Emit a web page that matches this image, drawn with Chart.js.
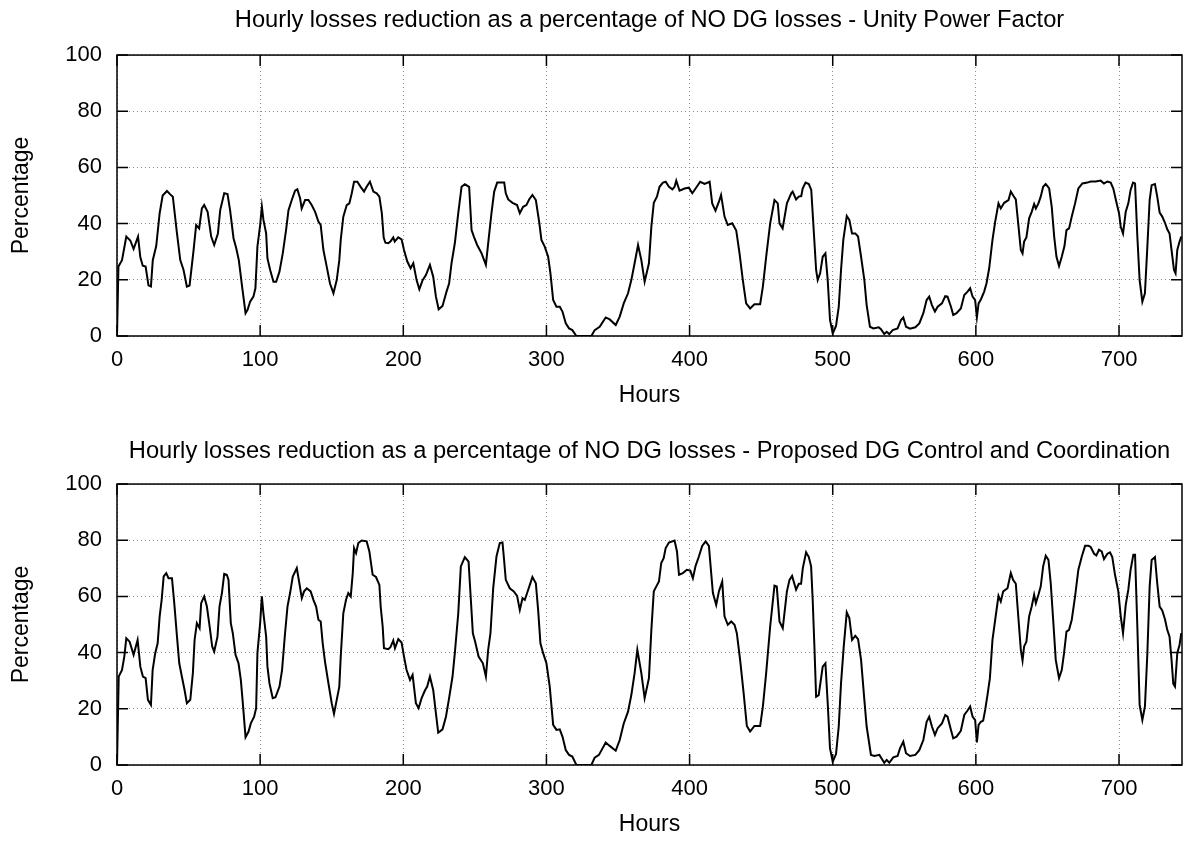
<!DOCTYPE html>
<html>
<head>
<meta charset="utf-8">
<title>Hourly losses reduction</title>
<script src="https://cdn.jsdelivr.net/npm/chart.js@4.4.1/dist/chart.umd.min.js"></script>
<style>
  body { margin: 0; background: #fff; }
  canvas { display: block; }
</style>
</head>
<body>
<canvas id="upfChart" width="1187" height="421"></canvas>
<canvas id="dgChart" width="1187" height="421"></canvas>
<script>
// Unity power factor case
const topHours = [0, 1, 3.5, 6.5, 9.3, 11.6, 14.7, 16.3, 18, 20, 22, 23.7, 25, 27.4, 29.8, 31.9, 34.9, 37.2, 39, 41.9,
  44.2, 46.5, 48.8, 50.7, 53.5, 55.3, 57.4, 59.3, 60.9, 63.3, 65.8, 67.9, 70.5, 72.1, 74.9, 77.2, 79, 81.4, 83.3, 85.1,
  87.4, 89.8, 91.2, 93, 95.3, 96.7, 98.1, 100, 101.2, 102.3, 104.2, 105.1, 107, 109.3, 111.2, 113.5, 115.8, 118.1, 119.8, 122.1,
  124.4, 126, 127.9, 129, 131.4, 133.7, 136, 138.4, 140.7, 142.3, 144.2, 146.5, 148.8, 151.2, 153.5, 155.3, 156.3, 158.1, 160.5, 162.3,
  164, 165.6, 167.9, 170.2, 172.6, 174.4, 176.7, 179.1, 181.4, 183.3, 185, 186.3, 187.5, 189.5, 191, 193, 194, 196.5, 198.8, 200.5,
  202.8, 205.1, 207, 209.3, 211.2, 213.5, 215.8, 218.6, 220.9, 222.8, 224.7, 227.4, 230.2, 232, 233.7, 236, 238.4, 240.7, 243, 246,
  247.7, 249.3, 251.6, 254.7, 257.7, 259.3, 261.6, 263.5, 265.6, 268.6, 270.5, 271.6, 273.3, 276.3, 279.5, 281.4, 283.7, 286, 287.9, 290.2,
  292.6, 294.9, 296.5, 298.8, 301.2, 302.8, 304.7, 307, 309.3, 311.2, 313.5, 315.8, 318.1, 320.9, 331.4, 333.7, 337.2, 341.4, 344.2, 348.4,
  351.2, 354, 357, 359.3, 361.6, 364, 366.3, 368.6, 371.6, 373.3, 375, 377.2, 379, 381.4, 383.3, 385.6, 388, 389.5, 390.7, 393,
  396.5, 399.5, 401.9, 404.2, 407.4, 410.5, 414, 415.8, 418.1, 420.5, 422, 424.4, 426.7, 429.8, 432.6, 434.9, 437.2, 439.5, 442.3, 445.3,
  449.3, 451.2, 453.5, 456.3, 459.3, 461.6, 462.8, 465, 468, 471, 472, 474.4, 476.3, 478, 479, 481, 483.3, 485, 486, 488.4,
  489.5, 491.2, 493, 494.9, 496.5, 498.1, 500, 502.3, 504.2, 505.8, 507.4, 509.8, 511.6, 513.5, 515.8, 517.7, 519.8, 522.1, 523.7, 526,
  528.4, 532.1, 533.7, 536, 537.7, 539.5, 541.9, 545.3, 547.7, 549.3, 551.2, 554, 557.7, 560.5, 563.3, 565.6, 567.4, 569.3, 571.4, 573.3,
  576.3, 578.6, 580.2, 582.6, 584.2, 586.5, 589.5, 591.9, 594.2, 596, 597.7, 599.5, 600.7, 601.9, 603.5, 605.8, 607.4, 609.3, 611.6, 613.5,
  615.8, 617.4, 619.8, 622.8, 624.4, 626.3, 627.9, 629.8, 631.4, 632.6, 633.7, 635.3, 637.2, 639, 640.7, 641.9, 643.7, 645.3, 647, 648.8,
  651.2, 653, 654.7, 656.3, 658.1, 660, 661.9, 663.3, 665.1, 667, 669.3, 671.6, 674.4, 677.9, 680.2, 683.7, 687.2, 689.5, 691.9, 694.2,
  696, 698.1, 700, 701.2, 702.8, 704.7, 706.5, 708.1, 709.8, 711.2, 712.8, 714.4, 716.3, 718.1, 719.8, 721.4, 722.8, 725.1, 726.7, 728.4,
  730.2, 732.1, 733.7, 735.3, 736.7, 738.4, 739.5, 740.7, 742.3, 743.5];
const topValues = [0, 24.7, 27, 35.4, 34, 31, 35.4, 28, 25, 24.7, 18, 17.6, 27, 32, 43.7, 50, 51.6, 50.4, 49.6, 36.5,
  27, 23.5, 17.6, 18, 30.6, 39.5, 38.3, 45.4, 46.6, 44.2, 35.4, 32.4, 36.5, 44.8, 50.8, 50.5, 44.8, 34.8, 31.2, 27,
  17.6, 8.1, 9.3, 12.2, 14, 17, 31.8, 39.5, 46, 41.3, 36.5, 27.6, 23.5, 19.3, 19.3, 22.9, 29.4, 37.7, 44.8, 48.4,
  51.7, 52.2, 49, 45.4, 48.4, 48.4, 46.6, 44.2, 40.7, 39.5, 30.6, 24.7, 18.7, 15.2, 19.9, 27, 34.2, 42.5, 46.6, 47.2,
  50.8, 54.9, 54.9, 53.1, 51.4, 53.1, 54.9, 51.4, 50.8, 49.6, 43.7, 35, 33.2, 33, 33.6, 35.1, 33.6, 35.1, 34.4, 30.6,
  26.5, 24.1, 25.9, 19.9, 16.6, 19.9, 21.7, 25.3, 21.1, 14, 9.5, 10.7, 15.8, 18.7, 25.9, 33, 43.7, 53.1, 54, 53.1,
  37.7, 35.4, 32.4, 29.4, 25.3, 33, 43.7, 51.4, 54.6, 54.6, 54.6, 50.8, 48.6, 47.4, 46.6, 43.7, 46, 46.6, 48.6, 50.2,
  48.4, 40.7, 34.2, 31.8, 28.2, 22.3, 12.8, 10.4, 10.4, 8.7, 4.5, 2.7, 2.1, 0, 0, 2.1, 3.3, 6.6, 5.9, 3.9,
  6.9, 11.6, 15.2, 19.9, 25.9, 32.4, 27, 19.3, 25.9, 38.9, 47.4, 49.6, 53.1, 54.6, 54.9, 53.1, 52.2, 53.1, 55.3, 51.7,
  52.5, 52.8, 50.8, 52.5, 54.9, 54.1, 54.9, 47.2, 44.6, 47.8, 50.2, 42.5, 39.5, 40.1, 37.5, 29.4, 19.9, 11.6, 9.8, 11.3,
  11.3, 17.6, 28.2, 40.1, 48.4, 47.2, 40.1, 38.3, 47.2, 50.8, 51.4, 48.6, 49.6, 49.8, 52.5, 54.6, 54.1, 52, 43.7, 23.5,
  19.9, 22.3, 28.2, 29.4, 19.9, 5.7, 0.9, 3.6, 10.4, 23.5, 34.2, 42.7, 41.3, 36.5, 36.5, 35.4, 28.2, 19.9, 11, 3.3,
  2.7, 3.1, 2.4, 0.7, 1.5, 0.7, 2.1, 2.7, 5.7, 6.6, 3.3, 2.6, 3.1, 4.5, 8.1, 12.8, 14, 11, 8.7, 10.4,
  11.6, 14.2, 14, 10.4, 7.5, 8.1, 9.8, 14.6, 15.8, 17, 14, 12.8, 6.6, 11.6, 13, 15.8, 18.7, 24.1, 34.2, 40.7,
  47.2, 45.4, 47.4, 48.4, 51.4, 49.8, 48.6, 38.9, 30.6, 29.4, 33.6, 35.1, 41.9, 44.2, 47, 45.4, 47.2, 49.6, 53.1, 54.1,
  52.5, 46, 35.4, 28.2, 24.9, 28.2, 32, 37.7, 38.3, 42.5, 47.2, 52.5, 54.3, 54.6, 55, 55, 55.3, 54.3, 55, 54.6,
  52.5, 47.8, 43.7, 38.9, 36.5, 44.2, 47.2, 52, 54.6, 54.3, 35.4, 19.9, 12.2, 15.2, 31.8, 48.4, 53.7, 54.1, 49.6, 43.9,
  42.5, 40.3, 38, 36.5, 30.6, 23.5, 22.3, 30.6, 33.6, 35.4];

// Proposed DG control and coordination case
const bottomHours = [0, 1.2, 3.5, 5.1, 6.5, 8.8, 11.6, 14.4, 16.3, 18.1, 20, 21.6, 23.7, 24.9, 26.7, 28.4, 29.8, 31.2, 32.6, 34.4,
  36, 38.4, 40, 41.9, 43.5, 45.3, 47.2, 48.8, 51.2, 53, 54.2, 55.8, 57.7, 58.8, 60.9, 62.8, 64.7, 66.5, 67.9, 70.2,
  71.6, 73.3, 74.9, 76.7, 77.9, 79.5, 80.9, 82.8, 84.9, 86.5, 87.9, 89.8, 91.9, 93.5, 95.8, 97.2, 98.1, 100, 101.2, 102.3,
  104.2, 105.1, 106.5, 108.8, 110.7, 113.5, 115.3, 117.4, 119.1, 120.9, 122.8, 125.6, 127.4, 129.1, 130.7, 132.6, 135.3, 137.2, 139.1, 140.7,
  142.3, 143.7, 145.3, 147.7, 150, 151.6, 153.5, 155.3, 156.3, 158.1, 160, 161.6, 163.3, 164.7, 165.6, 167, 168.6, 170.9, 174.4, 176.3,
  178.6, 180.9, 183.3, 184.2, 185.6, 186.5, 189.5, 191, 193, 194.2, 196.5, 198.8, 200.5, 202.3, 204.7, 206.5, 208.8, 210.7, 212.8, 215.1,
  216.7, 218.6, 220.9, 222.8, 224.4, 227.4, 229.8, 232, 234.4, 236, 238.4, 240.2, 243, 245.6, 247.2, 248.6, 250.2, 252.6, 255.6, 257.7,
  259.3, 260.9, 262.8, 265.1, 267.4, 269.3, 270.2, 271.6, 274.4, 277.2, 279.5, 281.4, 283.3, 284.9, 286.5, 288.4, 290.2, 292.6, 294.2, 295.8,
  297.7, 300, 302.3, 304.7, 307, 309.3, 311.2, 313.5, 315.8, 318.1, 320.9, 331.4, 333.7, 336.7, 341.4, 344.2, 348.4, 351.2, 354, 357,
  359.3, 361.6, 363.5, 366.3, 368.6, 371.6, 373.3, 375, 376.7, 378.6, 380.2, 381.9, 383.3, 385.6, 389.5, 391.2, 392.6, 395.3, 398.1, 400.5,
  402.3, 404.2, 406.5, 408.8, 411.2, 413.5, 415.1, 416.3, 418.6, 420.5, 422.8, 424.4, 426.7, 429.1, 431.4, 433, 435.3, 437.7, 440, 442.3,
  445.3, 449.3, 451.2, 453.5, 456.3, 459.3, 460.9, 462.8, 465.1, 468, 469.8, 471.6, 474.4, 476.3, 477.9, 479.1, 481.4, 483.3, 484.9, 486,
  487.2, 488.4, 490.2, 493, 494.9, 496.5, 498.1, 500, 502.3, 504.2, 505.8, 507.7, 509.8, 511.6, 513.5, 515.8, 517.7, 519.8, 522.1, 523.7,
  526.7, 529.1, 532.6, 533.7, 536, 537.7, 539.5, 542.3, 545.3, 547, 549.3, 551.2, 554, 557.7, 560.5, 563.3, 565.6, 567.4, 569.3, 571.4,
  573.3, 576.3, 578.6, 580.2, 582.6, 584.2, 586.5, 589.5, 591.9, 594.2, 596, 597.7, 599.5, 600.7, 601.9, 603.5, 605.1, 606.5, 608.1, 609.8,
  611.6, 613.5, 615.8, 617.4, 619.1, 622.1, 624.4, 626, 627.9, 629.8, 631.4, 632.6, 633.7, 635.3, 637.2, 639, 640.7, 641.9, 643.7, 645.3,
  647, 648.8, 650.7, 652.3, 654, 655.8, 658.1, 660, 661.6, 663.3, 665.1, 667, 669.3, 671.6, 674, 676.3, 678.6, 680.2, 682.6, 684.2,
  686, 687.9, 689.5, 691.9, 693.7, 695.3, 697.2, 699.5, 701.2, 702.8, 704.7, 706.5, 708.1, 710, 711.2, 712.8, 714.4, 716.3, 718.1, 719.8,
  721.4, 722.8, 725.1, 726.7, 728.4, 730.2, 732.1, 733.7, 735.3, 736.7, 737.9, 739.1, 740.7, 742.3, 743.5];
const bottomValues = [0, 31.5, 33.8, 38.6, 45.1, 43.9, 39.2, 44.5, 35, 31.5, 30.9, 23.2, 21.4, 33.8, 39.8, 43.3, 52.9, 58.8, 67.1, 68.3,
  66.5, 66.5, 57.6, 45.7, 36.2, 31.5, 26.7, 22, 23.2, 32.7, 44.5, 50.5, 48.7, 57.6, 60, 56.4, 49.3, 42.2, 40.4, 45.7,
  56.4, 61.2, 68, 67.7, 65.9, 50.5, 46.9, 39.2, 36.2, 30.3, 22, 9.9, 11.9, 14.8, 17.2, 20.2, 39.8, 50.5, 60, 54,
  45.7, 35, 29.1, 23.8, 24.1, 27.9, 33.8, 46.9, 56.4, 61.2, 67.1, 70.1, 64.7, 59.4, 61.8, 62.9, 61.8, 58.8, 56.4, 51.7,
  51.1, 43.3, 36.8, 29.1, 22, 18.2, 23.2, 27.9, 38.6, 54, 58.8, 61.2, 60, 68.3, 77.2, 75.4, 79, 79.9, 79.6, 76,
  67.7, 66.9, 64.1, 56.4, 49.3, 41.6, 41.2, 41.9, 44.3, 41.6, 44.8, 43.6, 38.6, 33.8, 30.3, 32.1, 22, 20.2, 23.8, 26.5,
  27.9, 31.5, 26.7, 18.4, 11.5, 12.7, 17.2, 23.8, 31.5, 39.8, 54, 70.7, 74, 72.4, 58.8, 46.9, 43.9, 38.6, 36.2, 31.5,
  41, 46.9, 62.9, 74.2, 79, 79.2, 74.2, 65.9, 62.9, 61.8, 60.2, 55.2, 59.4, 58.8, 61.2, 64.1, 66.9, 64.7, 55.2, 43.3,
  39.8, 36.2, 27.9, 14.3, 12.5, 12.7, 10.1, 5.3, 3.6, 3, 0, 0, 2.6, 3.6, 8, 6.8, 5.1, 8.9, 14.8, 19,
  24.9, 32.7, 41, 32.7, 23.8, 30.9, 48.1, 61.8, 63.5, 65.3, 71.9, 73.6, 77.2, 79.2, 79.9, 76, 67.7, 68.3, 69.5, 69.2,
  66.5, 70.9, 74.2, 78, 79.6, 78, 68.3, 61.2, 57, 61.8, 65.3, 52.9, 49.9, 51.1, 49.9, 46.9, 37.4, 25.9, 13.9, 11.9,
  13.9, 13.9, 20.8, 32.7, 49.3, 63.8, 63.5, 51.1, 48.7, 61.8, 65.9, 67.3, 62.4, 64.5, 64.5, 70.1, 75.7, 74, 70.7, 58.8,
  42.2, 24.3, 24.9, 35, 36.2, 22, 5.9, 1.2, 3.9, 13.7, 29.1, 42.2, 54.3, 52.3, 44.5, 46, 44.8, 37.4, 23.2, 13.7,
  3.6, 3.2, 3.6, 2.7, 0.8, 1.8, 0.8, 2.7, 3.2, 5.9, 8.3, 4.2, 3.2, 3.6, 5.3, 8.9, 15.4, 17.2, 13.7, 10.7,
  13.1, 14.8, 17.8, 17.2, 12.5, 9.5, 10.1, 12.2, 17.8, 19.4, 20.8, 17.2, 16, 8, 14.3, 15.4, 15.8, 19.6, 24.9, 30.9,
  44.5, 51.7, 60.2, 58.2, 61.8, 62.9, 68.3, 65.9, 64.5, 51.7, 41, 37.2, 42.2, 43.9, 52.9, 56.4, 60.6, 57.6, 60.6, 63.5,
  70.7, 74.5, 73, 64.7, 51.7, 37.4, 30.9, 33.8, 39.8, 47.5, 48.1, 51.7, 60, 69.5, 74.2, 78, 78, 77.6, 75.2, 74.6,
  76.6, 76, 73.3, 75.2, 75.7, 74, 67.7, 61.8, 52.9, 46.9, 57, 62.4, 69.5, 74.8, 74.8, 49.3, 21.4, 16, 20.8, 39.8,
  63.5, 73, 74, 64.7, 56.4, 55, 51.9, 48.1, 45.7, 37.4, 28.9, 27.9, 39.8, 42.8, 46.9];

const FONT = "'Liberation Sans', Arial, Helvetica, sans-serif";
const tickFont = { family: FONT, size: 22, weight: "normal" };
const labelFont = { family: FONT, size: 23, weight: "normal" };

// gnuplot style frame: solid border plus inward tick marks on all four sides
const gnuFrame = {
  id: "gnuFrame",
  afterDatasetsDraw(chart) {
    const { ctx, chartArea: a, scales } = chart;
    const len = 11;
    ctx.save();
    ctx.strokeStyle = "#000";
    ctx.lineWidth = 1.5;
    ctx.beginPath();
    scales.x.ticks.forEach((t) => {
      const px = scales.x.getPixelForValue(t.value);
      ctx.moveTo(px, a.bottom);
      ctx.lineTo(px, a.bottom - len);
      ctx.moveTo(px, a.top);
      ctx.lineTo(px, a.top + len);
    });
    scales.y.ticks.forEach((t) => {
      const py = scales.y.getPixelForValue(t.value);
      ctx.moveTo(a.left, py);
      ctx.lineTo(a.left + len, py);
      ctx.moveTo(a.right, py);
      ctx.lineTo(a.right - len, py);
    });
    ctx.stroke();
    ctx.strokeRect(a.left, a.top, a.right - a.left, a.bottom - a.top);
    ctx.restore();
  },
};

function makeChart(id, title, hours, values, lay) {
  const points = hours.map((h, i) => ({ x: h, y: values[i] }));
  return new Chart(document.getElementById(id), {
    type: "line",
    data: {
      datasets: [
        {
          data: points,
          borderColor: "#000",
          borderWidth: 2,
          pointRadius: 0,
          tension: 0,
          fill: false,
        },
      ],
    },
    options: {
      responsive: false,
      animation: false,
      layout: { padding: { left: 0, right: 5, top: 0, bottom: 0 } },
      plugins: {
        legend: { display: false },
        tooltip: { enabled: false },
        title: {
          display: true,
          text: title,
          fullSize: false,
          color: "#000",
          font: { family: FONT, size: 23.7, weight: "normal" },
          padding: lay.titlePad,
        },
      },
      scales: {
        x: {
          type: "linear",
          min: 0,
          max: 744,
          ticks: { stepSize: 100, includeBounds: false, color: "#000", font: tickFont, padding: 11, maxRotation: 0 },
          grid: { color: "#888", drawTicks: false },
          border: { display: false, dash: [1, 3] },
          title: { display: true, text: "Hours", color: "#000", font: labelFont, padding: { top: 0, bottom: lay.hoursPad } },
          afterFit: (s) => { s.height = lay.xHeight; },
        },
        y: {
          min: 0,
          max: 100,
          ticks: { stepSize: 20, color: "#000", font: tickFont, padding: 15 },
          grid: { color: "#888", drawTicks: false },
          border: { display: false, dash: [1, 3] },
          title: { display: true, text: "Percentage", color: "#000", font: labelFont, padding: { top: 7.9, bottom: 0 } },
          afterFit: (s) => { s.width = 117; },
        },
      },
    },
    plugins: [gnuFrame],
  });
}

makeChart("upfChart", "Hourly losses reduction as a percentage of NO DG losses - Unity Power Factor",
  topHours, topValues, { titlePad: { top: 6, bottom: 20.6 }, xHeight: 85, hoursPad: 11.7 });
makeChart("dgChart", "Hourly losses reduction as a percentage of NO DG losses - Proposed DG Control and Coordination",
  bottomHours, bottomValues, { titlePad: { top: 16.5, bottom: 18.1 }, xHeight: 77, hoursPad: 3.7 });
</script>
</body>
</html>
